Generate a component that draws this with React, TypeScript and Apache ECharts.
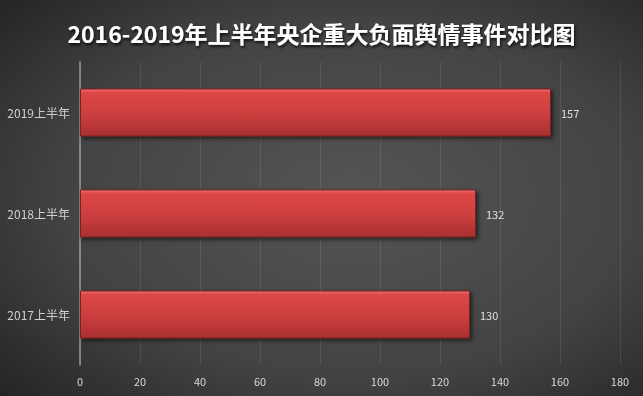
import React, { useEffect, useRef } from "react";
import * as echarts from "echarts";

const titleText = "2016-2019年上半年央企重大负面舆情事件对比图";
const categories = ["2017上半年", "2018上半年", "2019上半年"];
const values = [130, 132, 157];
const axisMax = 180;
const axisInterval = 20;

export default function App() {
  const ref = useRef<HTMLDivElement>(null);
  useEffect(() => {
    if (!ref.current) return;
    const chart = echarts.init(ref.current, null, { renderer: "svg" });
    chart.setOption({
      animation: false,
      backgroundColor: {
        type: "radial",
        x: 0.55,
        y: 0.5,
        r: 0.75,
        colorStops: [
          { offset: 0, color: "#555555" },
          { offset: 0.6, color: "#434343" },
          { offset: 1, color: "#242424" },
        ],
      },
      title: {
        text: titleText,
        left: "center",
        top: 16,
        textStyle: {
          color: "#ffffff",
          fontSize: 23,
          fontWeight: "bold",
          fontFamily: "Noto Sans CJK SC",
          textShadowColor: "rgba(0,0,0,0.8)",
          textShadowBlur: 3,
          textShadowOffsetX: 1,
          textShadowOffsetY: 2,
        },
      },
      grid: { left: 80, right: 23, top: 62, bottom: 31, containLabel: false },
      xAxis: {
        type: "value",
        min: 0,
        max: axisMax,
        interval: axisInterval,
        axisLine: { show: false },
        axisTick: { show: false },
        axisLabel: {
          color: "#d8d8d8",
          fontSize: 11,
          fontFamily: "Noto Sans CJK SC",
          margin: 10,
        },
        splitLine: { show: true, lineStyle: { color: "rgba(255,255,255,0.09)", width: 1 } },
      },
      yAxis: {
        type: "category",
        data: categories,
        axisLine: { show: true, lineStyle: { color: "#9a9a9a", width: 1.5 } },
        axisTick: { show: false },
        axisLabel: {
          color: "#d0d0d0",
          fontSize: 12,
          fontFamily: "Noto Sans CJK SC",
          margin: 10,
        },
      },
      series: [
        {
          type: "bar",
          data: values,
          barWidth: 48,
          itemStyle: {
            color: {
              type: "linear",
              x: 0,
              y: 0,
              x2: 0,
              y2: 1,
              colorStops: [
                { offset: 0, color: "#f07070" },
                { offset: 0.08, color: "#dc4646" },
                { offset: 0.5, color: "#cf4040" },
                { offset: 1, color: "#a92f2f" },
              ],
            },
            borderColor: "#7a2020",
            borderWidth: 1,
            shadowColor: "rgba(0,0,0,0.6)",
            shadowBlur: 4,
            shadowOffsetX: 2,
            shadowOffsetY: 2,
          },
          label: {
            show: true,
            position: "right",
            distance: 10,
            color: "#e0e0e0",
            fontSize: 11,
            fontFamily: "Noto Sans CJK SC",
          },
        },
      ],
    });
    return () => chart.dispose();
  }, []);
  return (
    <div
      ref={ref}
      style={{ position: "fixed", left: 0, top: 0, width: 643, height: 396 }}
    />
  );
}
